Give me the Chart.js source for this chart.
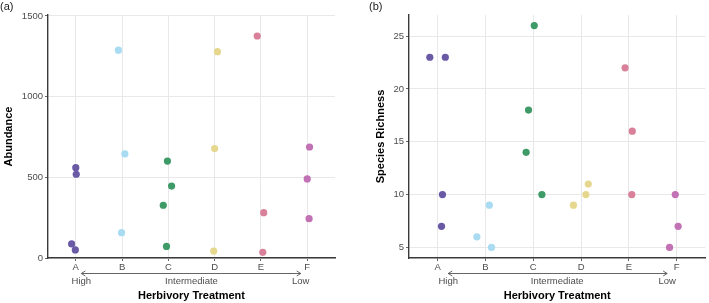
<!DOCTYPE html>
<html>
<head>
<meta charset="utf-8">
<script src="https://cdn.jsdelivr.net/npm/chart.js@4.4.1/dist/chart.umd.min.js"></script>
<style>
    body { margin: 0; background: #fff; }
    canvas { position: absolute; top: 0; }
    #chartA { left: 0; }
    #chartB { left: 354px; }
</style>
</head>
<body>
<canvas id="chartA" width="354" height="303"></canvas>
<canvas id="chartB" width="355" height="303"></canvas>
<script>
// ---- data ----
const treatments = ['A', 'B', 'C', 'D', 'E', 'F'];
const treatmentColors = ['#6a5aa6', '#a9dbf2', '#3e9a66', '#e5d88e', '#d9809a', '#c271b4'];
const gradientLabels = ['High', 'Intermediate', 'Low'];

// (a) abundance: treatment index, value, horizontal jitter
const abundanceGroup  = [0, 0, 0, 0, 1, 1, 1, 2, 2, 2, 2, 3, 3, 3, 4, 4, 4, 5, 5, 5];
const abundanceValue  = [560, 519, 87, 50, 1288, 645, 157, 601, 446, 327, 72, 1279, 678, 43, 1376, 281, 35, 688, 490, 244];
const abundanceJitter = [0, 0.01, -0.09, -0.01, -0.08, 0.06, -0.01, -0.02, 0.07, -0.11, -0.04, 0.06, 0, -0.02, -0.08, 0.06, 0.04, 0.05, 0, 0.04];
const abundanceTicks  = [0, 500, 1000, 1500];

// (b) species richness
const richnessGroup  = [0, 0, 0, 0, 1, 1, 1, 2, 2, 2, 2, 3, 3, 3, 4, 4, 4, 5, 5, 5];
const richnessValue  = [23, 23, 10, 7, 9, 6, 5, 26, 18, 14, 10, 11, 10, 9, 22, 16, 10, 10, 7, 5];
const richnessJitter = [-0.165, 0.16, 0.1, 0.08, 0.08, -0.18, 0.125, 0.02, -0.1, -0.15, 0.18, 0.15, 0.1, -0.16, -0.08, 0.07, 0.06, -0.03, 0.03, -0.15];
const richnessTicks  = [5, 10, 15, 20, 25];

const treatmentTicks = [0, 1, 2, 3, 4, 5];

const FONT = '"Liberation Sans", Arial, sans-serif';

// ---- helpers ----
function buildDatasets(groups, values, jitter) {
    return treatments.map((name, i) => {
        const pts = [];
        groups.forEach((g, k) => {
            if (g === i) pts.push({ x: i + jitter[k], y: values[k] });
        });
        return {
            label: name,
            data: pts,
            backgroundColor: treatmentColors[i],
            borderWidth: 0,
            pointRadius: 3.6,
            pointHoverRadius: 3.6,
            clip: false
        };
    });
}

// draws the gradient arrow, its labels, axis titles and the panel tag
const herbivoryAxis = {
    id: 'herbivoryAxis',
    afterDraw(chart, args, opts) {
        const ctx = chart.ctx;
        const xs = chart.scales.x;
        const area = chart.chartArea;
        ctx.save();

        // High / Intermediate / Low
        ctx.fillStyle = '#4d4d4d';
        ctx.font = '9.5px ' + FONT;
        ctx.textAlign = 'center';
        ctx.textBaseline = 'middle';
        opts.labelPos.forEach((p, i) => {
            ctx.fillText(gradientLabels[i], xs.getPixelForValue(p), area.bottom + 23.5);
        });

        // double headed arrow
        const x0 = xs.getPixelForValue(opts.labelPos[0]);
        const x1 = xs.getPixelForValue(opts.labelPos[2]);
        const ay = area.bottom + 15.5;
        ctx.strokeStyle = '#555';
        ctx.lineWidth = 0.9;
        ctx.beginPath();
        ctx.moveTo(x0, ay); ctx.lineTo(x1, ay);
        ctx.moveTo(x0 + 4, ay - 2.5); ctx.lineTo(x0, ay); ctx.lineTo(x0 + 4, ay + 2.5);
        ctx.moveTo(x1 - 4, ay - 2.5); ctx.lineTo(x1, ay); ctx.lineTo(x1 - 4, ay + 2.5);
        ctx.stroke();

        // x title
        ctx.fillStyle = '#000';
        ctx.font = 'bold 11px ' + FONT;
        ctx.fillText('Herbivory Treatment', (area.left + area.right) / 2, area.bottom + 38);

        // y title
        ctx.save();
        ctx.translate(opts.yTitleX, (area.top + area.bottom) / 2);
        ctx.rotate(-Math.PI / 2);
        ctx.fillText(opts.yTitle, 0, 0);
        ctx.restore();

        // panel tag
        ctx.font = '11px ' + FONT;
        ctx.fillStyle = '#222';
        ctx.textAlign = 'left';
        ctx.fillText(opts.tag, opts.tagX, 7);

        ctx.restore();
    }
};

function makeChart(canvasId, cfg) {
    const ctx = document.getElementById(canvasId).getContext('2d');
    return new Chart(ctx, {
        type: 'scatter',
        data: { datasets: buildDatasets(cfg.groups, cfg.values, cfg.jitter) },
        plugins: [herbivoryAxis],
        options: {
            responsive: false,
            animation: false,
            events: [],
            layout: { padding: { left: 0, right: cfg.padRight, top: 15, bottom: 0 } },
            plugins: {
                legend: { display: false },
                tooltip: { enabled: false },
                herbivoryAxis: {
                    labelPos: cfg.labelPos,
                    yTitle: cfg.yTitle,
                    yTitleX: cfg.yTitleX,
                    tag: cfg.tag,
                    tagX: cfg.tagX
                }
            },
            scales: {
                x: {
                    type: 'linear',
                    min: -0.6,
                    max: 5.6,
                    afterBuildTicks: (scale) => { scale.ticks = treatmentTicks.map(v => ({ value: v })); },
                    afterFit: (scale) => { scale.height = 45; },
                    grid: { color: '#e8e8e8', lineWidth: 1, tickLength: 3, tickColor: '#666' },
                    border: { display: true, color: '#3a3a3a', width: 1.4 },
                    ticks: {
                        padding: 1,
                        color: '#4d4d4d',
                        font: { family: FONT, size: 9.5 },
                        callback: (v) => treatments[v]
                    }
                },
                y: {
                    type: 'linear',
                    min: cfg.yMin,
                    max: cfg.yMax,
                    afterBuildTicks: (scale) => { scale.ticks = cfg.yTicks.map(v => ({ value: v })); },
                    afterFit: (scale) => { scale.width = cfg.yWidth; },
                    grid: { color: '#e8e8e8', lineWidth: 1, tickLength: 3, tickColor: '#666' },
                    border: { display: true, color: '#3a3a3a', width: 1.4 },
                    ticks: {
                        padding: 2,
                        color: '#4d4d4d',
                        font: { family: FONT, size: 9.5 },
                        callback: (v) => String(v)
                    }
                }
            }
        }
    });
}

makeChart('chartA', {
    groups: abundanceGroup, values: abundanceValue, jitter: abundanceJitter,
    yTicks: abundanceTicks, yMin: 0, yMax: 1506, yWidth: 48, padRight: 19,
    labelPos: [0.12, 2.5, 4.86], yTitle: 'Abundance', yTitleX: 9,
    tag: '(a)', tagX: 0
});

makeChart('chartB', {
    groups: richnessGroup, values: richnessValue, jitter: richnessJitter,
    yTicks: richnessTicks, yMin: 4, yMax: 27, yWidth: 55, padRight: 2,
    labelPos: [0.22, 2.5, 4.8], yTitle: 'Species Richness', yTitleX: 27,
    tag: '(b)', tagX: 15
});
</script>
</body>
</html>
